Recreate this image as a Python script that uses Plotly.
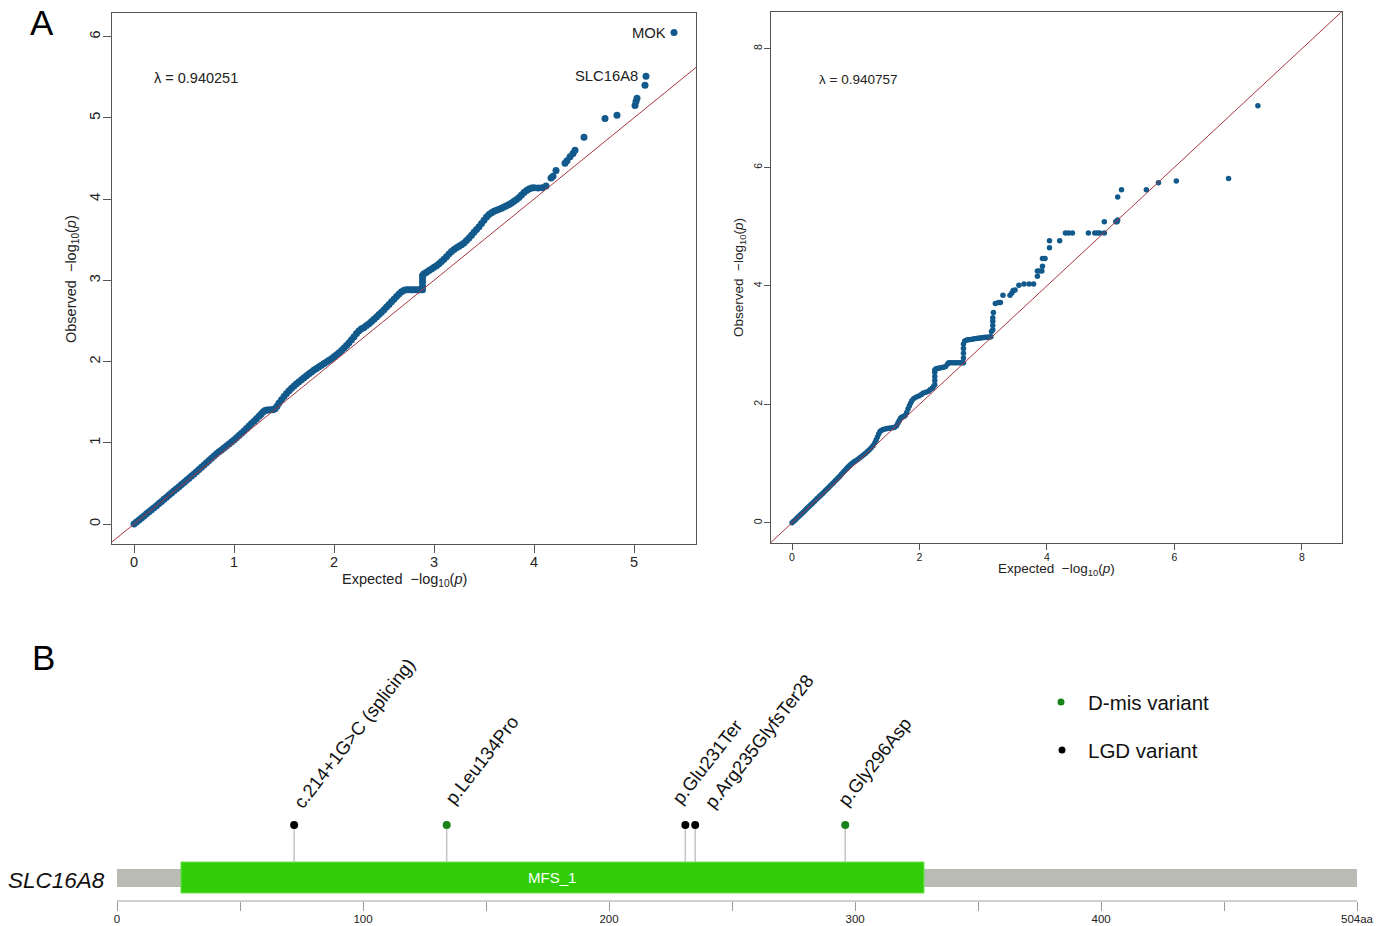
import plotly.graph_objects as go

# ---------------- Panel A data ----------------
left_exp = [0.000, 0.025, 0.050, 0.075, 0.100, 0.125, 0.150, 0.175, 0.200, 0.225, 0.250, 0.275,
            0.300, 0.325, 0.350, 0.375, 0.400, 0.425, 0.450, 0.475, 0.500, 0.525, 0.550, 0.575,
            0.600, 0.625, 0.650, 0.675, 0.700, 0.725, 0.750, 0.775, 0.800, 0.825, 0.850, 0.875,
            0.900, 0.925, 0.950, 0.975, 1.000, 1.025, 1.050, 1.075, 1.100, 1.125, 1.150, 1.175,
            1.200, 1.225, 1.250, 1.270, 1.290, 1.310, 1.330, 1.350, 1.370, 1.390, 1.410, 1.430,
            1.450, 1.475, 1.500, 1.525, 1.550, 1.575, 1.600, 1.625, 1.650, 1.675, 1.700, 1.725,
            1.750, 1.775, 1.800, 1.825, 1.850, 1.875, 1.900, 1.925, 1.950, 1.975, 2.000, 2.025,
            2.050, 2.075, 2.100, 2.125, 2.150, 2.175, 2.200, 2.225, 2.250, 2.275, 2.300, 2.325,
            2.350, 2.375, 2.400, 2.425, 2.450, 2.475, 2.500, 2.525, 2.550, 2.575, 2.600, 2.625,
            2.650, 2.675, 2.700, 2.725, 2.750, 2.775, 2.800, 2.825, 2.850, 2.870, 2.885, 2.885,
            2.885, 2.885, 2.885, 2.900, 2.925, 2.950, 2.975, 3.000, 3.025, 3.050, 3.075, 3.100,
            3.125, 3.150, 3.175, 3.200, 3.225, 3.250, 3.275, 3.300, 3.325, 3.350, 3.375, 3.400,
            3.425, 3.450, 3.475, 3.500, 3.525, 3.550, 3.575, 3.600, 3.625, 3.650, 3.675, 3.700,
            3.725, 3.750, 3.775, 3.800, 3.825, 3.850, 3.875, 3.900, 3.925, 3.950, 3.975, 4.000,
            4.040, 4.080, 4.120, 4.170, 4.190, 4.220, 4.310, 4.330, 4.360, 4.390, 4.410, 4.500,
            4.710, 4.830, 5.010, 5.020, 5.030, 5.110, 5.120, 5.400]
left_obs = [0.000, 0.025, 0.050, 0.075, 0.100, 0.125, 0.150, 0.175, 0.200, 0.226, 0.252, 0.278,
            0.304, 0.330, 0.356, 0.382, 0.408, 0.434, 0.460, 0.486, 0.512, 0.538, 0.564, 0.590,
            0.616, 0.643, 0.670, 0.698, 0.726, 0.754, 0.782, 0.810, 0.838, 0.864, 0.890, 0.912,
            0.935, 0.960, 0.985, 1.010, 1.035, 1.062, 1.090, 1.118, 1.146, 1.176, 1.206, 1.236,
            1.266, 1.296, 1.326, 1.352, 1.378, 1.398, 1.402, 1.404, 1.406, 1.408, 1.420, 1.450,
            1.490, 1.530, 1.570, 1.605, 1.640, 1.670, 1.700, 1.725, 1.750, 1.775, 1.800, 1.825,
            1.850, 1.872, 1.895, 1.915, 1.935, 1.955, 1.975, 1.995, 2.015, 2.035, 2.058, 2.082,
            2.108, 2.136, 2.166, 2.198, 2.232, 2.268, 2.306, 2.344, 2.380, 2.402, 2.420, 2.442,
            2.466, 2.492, 2.520, 2.548, 2.578, 2.608, 2.638, 2.670, 2.702, 2.735, 2.768, 2.800,
            2.832, 2.860, 2.878, 2.882, 2.882, 2.882, 2.882, 2.882, 2.882, 2.882, 2.882, 2.930,
            2.980, 3.020, 3.060, 3.080, 3.100, 3.120, 3.140, 3.160, 3.180, 3.205, 3.230, 3.258,
            3.290, 3.325, 3.355, 3.380, 3.400, 3.418, 3.438, 3.460, 3.490, 3.520, 3.555, 3.590,
            3.625, 3.660, 3.700, 3.740, 3.780, 3.810, 3.830, 3.850, 3.862, 3.874, 3.888, 3.902,
            3.918, 3.934, 3.952, 3.972, 3.995, 4.020, 4.050, 4.080, 4.105, 4.125, 4.135, 4.138,
            4.135, 4.140, 4.160, 4.260, 4.280, 4.350, 4.440, 4.470, 4.520, 4.560, 4.600, 4.760,
            4.990, 5.030, 5.150, 5.200, 5.240, 5.400, 5.510, 6.050]
left_lambda = "0.940251"
top_genes = ["MOK", "SLC16A8"]
top_exp = [5.40, 5.12]
top_obs = [6.05, 5.51]

right_exp = [0.000, 0.025, 0.050, 0.075, 0.100, 0.125, 0.150, 0.175, 0.200, 0.225, 0.250, 0.275,
             0.300, 0.325, 0.350, 0.375, 0.400, 0.425, 0.450, 0.475, 0.500, 0.525, 0.550, 0.575,
             0.600, 0.625, 0.650, 0.675, 0.700, 0.725, 0.750, 0.775, 0.800, 0.825, 0.850, 0.875,
             0.900, 0.925, 0.950, 0.975, 1.000, 1.030, 1.060, 1.090, 1.120, 1.150, 1.180, 1.210,
             1.240, 1.270, 1.300, 1.320, 1.340, 1.360, 1.380, 1.400, 1.430, 1.460, 1.490, 1.520,
             1.550, 1.580, 1.610, 1.640, 1.660, 1.680, 1.700, 1.720, 1.740, 1.760, 1.780, 1.800,
             1.820, 1.840, 1.860, 1.880, 1.910, 1.950, 1.990, 2.030, 2.060, 2.100, 2.140, 2.170,
             2.200, 2.220, 2.240, 2.240, 2.240, 2.240, 2.240, 2.260, 2.290, 2.320, 2.350, 2.380,
             2.410, 2.440, 2.460, 2.490, 2.520, 2.550, 2.580, 2.610, 2.640, 2.670, 2.690, 2.690,
             2.690, 2.690, 2.690, 2.710, 2.740, 2.770, 2.800, 2.830, 2.860, 2.890, 2.920, 2.950,
             2.980, 3.010, 3.040, 3.070, 3.100, 3.120, 3.130, 3.150, 3.150, 3.150, 3.150, 3.160,
             3.190, 3.240, 3.270, 3.310, 3.420, 3.450, 3.470, 3.500, 3.560, 3.640, 3.720, 3.790,
             3.850, 3.850, 3.880, 3.920, 3.930, 3.930, 3.970, 4.040, 4.040, 4.200, 4.290, 4.340,
             4.400, 4.650, 4.750, 4.790, 4.830, 4.900, 4.900, 5.080, 5.100, 5.110, 5.110, 5.170,
             5.560, 5.750, 6.030, 6.850, 7.310]
right_obs = [0.000, 0.025, 0.050, 0.076, 0.102, 0.128, 0.154, 0.180, 0.206, 0.232, 0.258, 0.284,
             0.310, 0.336, 0.362, 0.388, 0.414, 0.440, 0.466, 0.492, 0.518, 0.544, 0.570, 0.597,
             0.624, 0.651, 0.678, 0.705, 0.732, 0.760, 0.788, 0.818, 0.848, 0.878, 0.908, 0.938,
             0.965, 0.990, 1.012, 1.030, 1.048, 1.070, 1.095, 1.120, 1.145, 1.172, 1.200, 1.230,
             1.262, 1.300, 1.350, 1.400, 1.450, 1.500, 1.540, 1.560, 1.575, 1.585, 1.590, 1.595,
             1.600, 1.605, 1.615, 1.640, 1.680, 1.720, 1.760, 1.780, 1.790, 1.800, 1.820, 1.860,
             1.920, 1.970, 2.020, 2.060, 2.100, 2.125, 2.140, 2.165, 2.190, 2.205, 2.220, 2.250,
             2.270, 2.300, 2.330, 2.400, 2.470, 2.540, 2.580, 2.600, 2.610, 2.615, 2.620, 2.625,
             2.640, 2.680, 2.700, 2.700, 2.700, 2.700, 2.700, 2.700, 2.700, 2.700, 2.700, 2.780,
             2.860, 2.940, 3.020, 3.070, 3.085, 3.090, 3.095, 3.100, 3.105, 3.110, 3.115, 3.120,
             3.125, 3.128, 3.130, 3.132, 3.135, 3.140, 3.230, 3.260, 3.330, 3.400, 3.460, 3.550,
             3.700, 3.720, 3.720, 3.840, 3.840, 3.880, 3.920, 3.930, 4.010, 4.030, 4.030, 4.030,
             4.160, 4.250, 4.250, 4.250, 4.330, 4.460, 4.460, 4.640, 4.760, 4.760, 4.890, 4.890,
             4.890, 4.890, 4.890, 4.890, 4.890, 4.890, 5.080, 5.080, 5.080, 5.110, 5.500, 5.620,
             5.620, 5.740, 5.770, 5.810, 7.040]
right_lambda = "0.940757"

# ---------------- Panel B data ----------------
gene_name = "SLC16A8"
protein_len = 504
domain_name = "MFS_1"
domain_start = 26
domain_end = 328
var_labels = ["c.214+1G>C (splicing)", "p.Leu134Pro", "p.Glu231Ter",
              "p.Arg235GlyfsTer28", "p.Gly296Asp"]
var_pos = [72, 134, 231, 235, 296]
var_type = ["LGD", "D-mis", "LGD", "LGD", "D-mis"]
axis_ticks = [0, 100, 200, 300, 400, 504]
axis_ticktext = ["0", "100", "200", "300", "400", "504aa"]
minor_ticks = [50, 150, 250, 350, 450]

# label nudges (pixels) to keep neighbouring labels apart, as in the original
label_dx = [0, 0, -12, 10, -6]
label_dy = [0, 4, 4, 0, 2]

# ---------------- styles ----------------
W, H = 1387, 926
FONT = "Liberation Sans, Arial, sans-serif"
PT_COLOR = "#125a8c"
LINE_COLOR = "#a8383f"
BOX = "#555555"
TYPE_COLOR = {"D-mis": "#17831a", "LGD": "#000000"}


def px(x):
    return x / W


def py(y):
    return 1 - y / H


fig = go.Figure()

fig.add_trace(go.Scatter(x=left_exp, y=left_obs, mode="markers",
                         marker=dict(color=PT_COLOR, size=7, line=dict(width=0)),
                         xaxis="x", yaxis="y"))
fig.add_trace(go.Scatter(x=[-1, 10], y=[-1, 10], mode="lines",
                         line=dict(color=LINE_COLOR, width=1), xaxis="x", yaxis="y"))
fig.add_trace(go.Scatter(x=right_exp, y=right_obs, mode="markers",
                         marker=dict(color=PT_COLOR, size=5.5, line=dict(width=0)),
                         xaxis="x2", yaxis="y2"))
fig.add_trace(go.Scatter(x=[-1, 10], y=[-1, 10], mode="lines",
                         line=dict(color=LINE_COLOR, width=1), xaxis="x2", yaxis="y2"))

HEAD_Y = 75
fig.add_trace(go.Scatter(x=var_pos, y=[HEAD_Y] * len(var_pos), mode="markers",
                         marker=dict(color=[TYPE_COLOR[t] for t in var_type], size=8,
                                     line=dict(width=0)),
                         xaxis="x3", yaxis="y3", cliponaxis=False))

shapes = []
shapes.append(dict(type="rect", xref="x3", yref="y3", x0=0, x1=protein_len, y0=13, y1=31,
                   fillcolor="#b9bbb4", line=dict(width=0), layer="below"))
shapes.append(dict(type="rect", xref="x3", yref="y3", x0=domain_start, x1=domain_end, y0=7, y1=38,
                   fillcolor="#32cd0a", line=dict(width=1, color="#6fe04f"), layer="below"))
for p in var_pos:
    shapes.append(dict(type="line", xref="x3", yref="y3", x0=p, x1=p, y0=38, y1=HEAD_Y,
                       line=dict(color="#c4c4c4", width=1.5), layer="below"))
shapes.append(dict(type="circle", xref="paper", yref="paper",
                   x0=px(1057.5), x1=px(1064.5), y0=py(705.5), y1=py(698.5),
                   fillcolor=TYPE_COLOR["D-mis"], line=dict(width=0)))
shapes.append(dict(type="circle", xref="paper", yref="paper",
                   x0=px(1058.5), x1=px(1065.5), y0=py(753.5), y1=py(746.5),
                   fillcolor=TYPE_COLOR["LGD"], line=dict(width=0)))


def pann(text, x, y, size, xanchor="center", yanchor="middle", angle=0, color="#222"):
    return dict(text=text, x=px(x), y=py(y), xref="paper", yref="paper", showarrow=False,
                xanchor=xanchor, yanchor=yanchor, textangle=angle,
                font=dict(size=size, color=color, family=FONT))


ann = []
ann.append(pann("A", 42, 22, 35, color="black"))
ann.append(pann("B", 43, 657, 35, color="black"))
ann.append(pann("\u03bb = " + left_lambda, 152, 78, 14.5, xanchor="left"))
ann.append(pann("\u03bb = " + right_lambda, 817, 79, 13.5, xanchor="left"))
for g, gx, gy in zip(top_genes, top_exp, top_obs):
    ann.append(dict(text=g, x=gx, y=gy, xref="x", yref="y", xanchor="right", yanchor="middle",
                    xshift=-6, showarrow=False, font=dict(size=14.8, color="#222", family=FONT)))
ann.append(pann("Expected  \u2212log<sub>10</sub>(<i>p</i>)", 404, 580, 14.5))
ann.append(pann("Observed  \u2212log<sub>10</sub>(<i>p</i>)", 72, 279, 14.5, angle=-90))
ann.append(pann("Expected  \u2212log<sub>10</sub>(<i>p</i>)", 1056, 569, 13.5))
ann.append(pann("Observed  \u2212log<sub>10</sub>(<i>p</i>)", 739, 278, 13.5, angle=-90))
ann.append(pann("<i>" + gene_name + "</i>", 107, 880, 22.5, xanchor="right", color="#111"))
ann.append(dict(text=domain_name, x=(domain_start + domain_end) / 2, y=22.5, xref="x3", yref="y3",
                showarrow=False, font=dict(size=15, color="white", family=FONT)))
for lab, p, dx, dy in zip(var_labels, var_pos, label_dx, label_dy):
    ann.append(dict(text=lab, x=p, y=HEAD_Y, xref="x3", yref="y3", xanchor="left",
                    yanchor="bottom", yshift=10 + dy, xshift=-8 + dx, textangle=-52,
                    showarrow=False, font=dict(size=18.5, color="#111", family=FONT)))
ann.append(pann("D-mis variant", 1086, 702, 20.5, xanchor="left", color="#111"))
ann.append(pann("LGD variant", 1086, 750, 20.5, xanchor="left", color="#111"))

qq_axis = dict(showgrid=False, zeroline=False, showline=True, mirror=True, linecolor=BOX,
               linewidth=1.2, ticks="outside", tickcolor=BOX, color="#222", automargin=False)

fig.update_layout(
    width=W, height=H, autosize=False,
    margin=dict(l=0, r=0, t=0, b=0, pad=0, autoexpand=False),
    paper_bgcolor="white", plot_bgcolor="white", showlegend=False,
    font=dict(family=FONT),
    xaxis=dict(domain=[px(112), px(696)], range=[-0.22, 5.62], anchor="y",
               tickvals=[0, 1, 2, 3, 4, 5], ticklen=8, ticklabelstandoff=-4,
               tickfont=dict(size=14.5), **qq_axis),
    yaxis=dict(domain=[py(544), py(13)], range=[-0.246, 6.29], anchor="x",
               tickvals=[0, 1, 2, 3, 4, 5, 6], ticklen=8, tickangle=-90, ticklabelstandoff=-3,
               tickfont=dict(size=14.5), **qq_axis),
    xaxis2=dict(domain=[px(771), px(1342)], range=[-0.33, 8.63], anchor="y2",
                tickvals=[0, 2, 4, 6, 8], ticklen=6, ticklabelstandoff=-2,
                tickfont=dict(size=10.5), **qq_axis),
    yaxis2=dict(domain=[py(543), py(12)], range=[-0.34, 8.62], anchor="x2",
                tickvals=[0, 2, 4, 6, 8], ticklen=6, tickangle=-90, ticklabelstandoff=-2,
                tickfont=dict(size=10.5), **qq_axis),
    xaxis3=dict(domain=[px(117), px(1357)], range=[0, protein_len], anchor="y3",
                showgrid=False, zeroline=False, showline=True, linecolor="#cfcfcf", linewidth=1.5,
                ticks="outside", ticklen=9, tickcolor="#9a9a9a", tickwidth=1, automargin=False,
                ticklabelstandoff=-2,
                tickvals=axis_ticks, ticktext=axis_ticktext,
                tickfont=dict(size=11.5, color="#222", family=FONT),
                minor=dict(tickvals=minor_ticks, ticks="outside", ticklen=9,
                           tickcolor="#9a9a9a", showgrid=False)),
    yaxis3=dict(domain=[py(900), py(640)], range=[0, 260], anchor="x3", visible=False,
                automargin=False),
    shapes=shapes, annotations=ann,
)

fig.write_html(
    "out.html",
    config={"displayModeBar": False, "responsive": False},
    post_script=("document.body.style.margin='0';document.body.style.padding='0';"
                 "document.documentElement.style.overflow='hidden';"),
)
